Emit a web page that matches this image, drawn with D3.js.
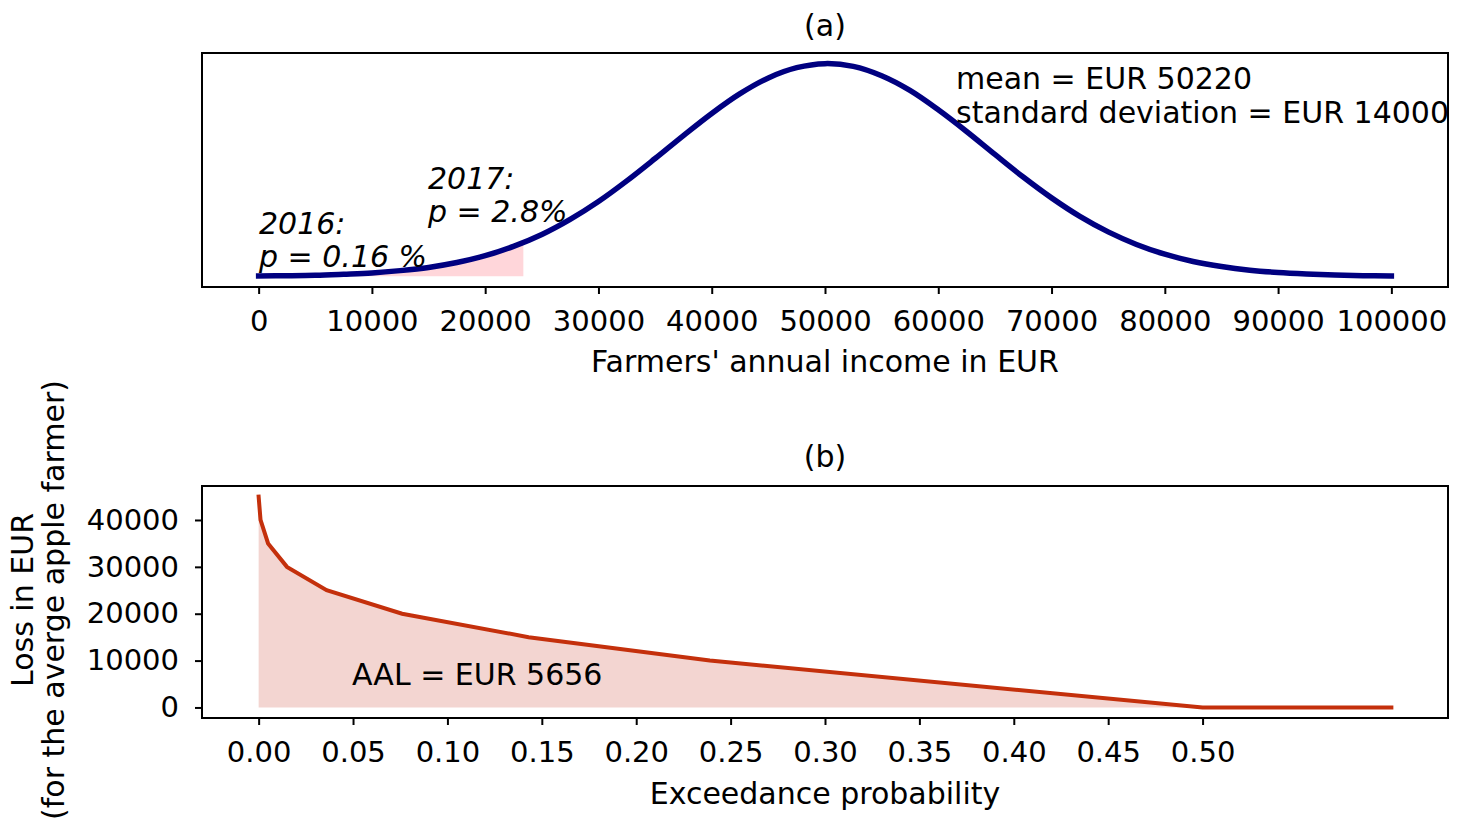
<!DOCTYPE html>
<html>
<head>
<meta charset="utf-8">
<script src="https://cdn.jsdelivr.net/npm/d3@7"></script>
<style>
  body { margin: 0; background: #fff; }
  svg { display: block; font-family: "DejaVu Sans", sans-serif; }
  .tick text { font-size: 29px; fill: #000; font-family: "DejaVu Sans", sans-serif; }
  .tick line { stroke: #000; stroke-width: 2; }
</style>
</head>
<body>
<div id="container"></div>
<script>
// Panel (a): income distribution (relative height, peak = 1)
const incomeX = [0, 2500, 5000, 7500, 10000, 12500, 15000, 17500, 20000, 22500, 25000,
                 27500, 30000, 32500, 35000, 37500, 40000, 42500, 45000, 47500, 50000,
                 52500, 55000, 57500, 60000, 62500, 65000, 67500, 70000, 72500, 75000,
                 77500, 80000, 82500, 85000, 87500, 90000, 92500, 95000, 97500, 100000];
const densityY = [0.002, 0.003, 0.005, 0.010, 0.016, 0.027, 0.042, 0.065, 0.097, 0.141, 0.197,
                  0.268, 0.352, 0.449, 0.554, 0.662, 0.766, 0.859, 0.933, 0.981, 1.0,
                  0.987, 0.943, 0.874, 0.783, 0.681, 0.573, 0.467, 0.369, 0.282, 0.209,
                  0.150, 0.104, 0.070, 0.046, 0.029, 0.018, 0.011, 0.006, 0.003, 0.002];
// shaded tail up to the 2017 income
const tailEndX = 23370;
const tailEndY = 0.162;
const incomeTicks = [0, 10000, 20000, 30000, 40000, 50000, 60000, 70000, 80000, 90000, 100000];

// Panel (b): loss exceedance curve
const exceedP = [0, 0.001, 0.005, 0.015, 0.036, 0.076, 0.143, 0.239, 0.5, 0.6];
const lossEUR = [45000, 40000, 35000, 30000, 25000, 20000, 15000, 10000, 0, 0];
const probTicks = [0, 0.05, 0.10, 0.15, 0.20, 0.25, 0.30, 0.35, 0.40, 0.45, 0.50];
const lossTicks = [0, 10000, 20000, 30000, 40000];

const width = 1464, height = 820;
const svg = d3.select('#container').append('svg')
    .attr('width', width)
    .attr('height', height);

const left = 202, right = 1448;

//---- Panel (a)
const aTop = 53, aBottom = 287;
const xa = d3.scaleLinear().domain([-5000, 105000]).range([left, right]);
const ya = d3.scaleLinear().domain([-0.05, 1.05]).range([aBottom, aTop]);

const curve = incomeX.map((x, i) => [x, densityY[i]]);
const tail = curve.filter(d => d[0] < tailEndX).concat([[tailEndX, tailEndY]]);

svg.append('path')
    .datum(tail)
    .attr('fill', '#ffd6da')
    .attr('d', d3.area().x(d => xa(d[0])).y0(ya(0)).y1(d => ya(d[1])).curve(d3.curveCatmullRom));

svg.append('path')
    .datum(curve)
    .attr('fill', 'none')
    .attr('stroke', '#000080')
    .attr('stroke-width', 5.5)
    .attr('stroke-linecap', 'square')
    .attr('d', d3.line().x(d => xa(d[0])).y(d => ya(d[1])).curve(d3.curveCatmullRom));

svg.append('rect')
    .attr('x', left).attr('y', aTop)
    .attr('width', right - left).attr('height', aBottom - aTop)
    .attr('fill', 'none').attr('stroke', '#000').attr('stroke-width', 2);

svg.append('g')
    .attr('transform', `translate(0,${aBottom})`)
    .call(d3.axisBottom(xa).tickValues(incomeTicks).tickSize(7).tickPadding(16).tickFormat(d3.format('d')))
    .call(g => g.select('.domain').remove());

svg.append('text').attr('x', 825).attr('y', 36)
    .attr('text-anchor', 'middle').attr('font-size', 30).text('(a)');

svg.append('text').attr('x', 825).attr('y', 372)
    .attr('text-anchor', 'middle').attr('font-size', 30).text("Farmers' annual income in EUR");

const stats = svg.append('text').attr('font-size', 30);
stats.append('tspan').attr('x', 956).attr('y', 89).text('mean = EUR 50220');
stats.append('tspan').attr('x', 956).attr('y', 123).text('standard deviation = EUR 14000');

const y16 = svg.append('text').attr('font-size', 30).attr('font-style', 'italic');
y16.append('tspan').attr('x', 259).attr('y', 234).text('2016:');
y16.append('tspan').attr('x', 259).attr('y', 267).text('p = 0.16 %');

const y17 = svg.append('text').attr('font-size', 30).attr('font-style', 'italic');
y17.append('tspan').attr('x', 428).attr('y', 189).text('2017:');
y17.append('tspan').attr('x', 428).attr('y', 222).text('p = 2.8%');

//---- Panel (b)
const bTop = 486, bBottom = 718;
const xb = d3.scaleLinear().domain([-0.03, 0.63]).range([left, right]);
const yb = d3.scaleLinear().domain([-2250, 47250]).range([bBottom, bTop]);

const loss = exceedP.map((p, i) => [p, lossEUR[i]]);

svg.append('path')
    .datum(loss)
    .attr('fill', '#f3d5d1')
    .attr('d', d3.area().x(d => xb(d[0])).y0(yb(0)).y1(d => yb(d[1])));

svg.append('path')
    .datum(loss)
    .attr('fill', 'none')
    .attr('stroke', '#c4300c')
    .attr('stroke-width', 4)
    .attr('stroke-linecap', 'square')
    .attr('d', d3.line().x(d => xb(d[0])).y(d => yb(d[1])));

svg.append('rect')
    .attr('x', left).attr('y', bTop)
    .attr('width', right - left).attr('height', bBottom - bTop)
    .attr('fill', 'none').attr('stroke', '#000').attr('stroke-width', 2);

svg.append('g')
    .attr('transform', `translate(0,${bBottom})`)
    .call(d3.axisBottom(xb).tickValues(probTicks).tickSize(7).tickPadding(16).tickFormat(d3.format('.2f')))
    .call(g => g.select('.domain').remove());

svg.append('g')
    .attr('transform', `translate(${left},0)`)
    .call(d3.axisLeft(yb).tickValues(lossTicks).tickSize(7).tickPadding(16).tickFormat(d3.format('d')))
    .call(g => g.select('.domain').remove());

svg.append('text').attr('x', 352).attr('y', 685).attr('font-size', 30).text('AAL = EUR 5656');

svg.append('text').attr('x', 825).attr('y', 467)
    .attr('text-anchor', 'middle').attr('font-size', 30).text('(b)');

svg.append('text').attr('x', 825).attr('y', 804)
    .attr('text-anchor', 'middle').attr('font-size', 30).text('Exceedance probability');

const ylab = svg.append('text')
    .attr('transform', 'translate(0,600) rotate(-90)')
    .attr('text-anchor', 'middle').attr('font-size', 30);
ylab.append('tspan').attr('x', 0).attr('y', 33).text('Loss in EUR');
ylab.append('tspan').attr('x', 0).attr('y', 64).text('(for the averge apple farmer)');
</script>
</body>
</html>
